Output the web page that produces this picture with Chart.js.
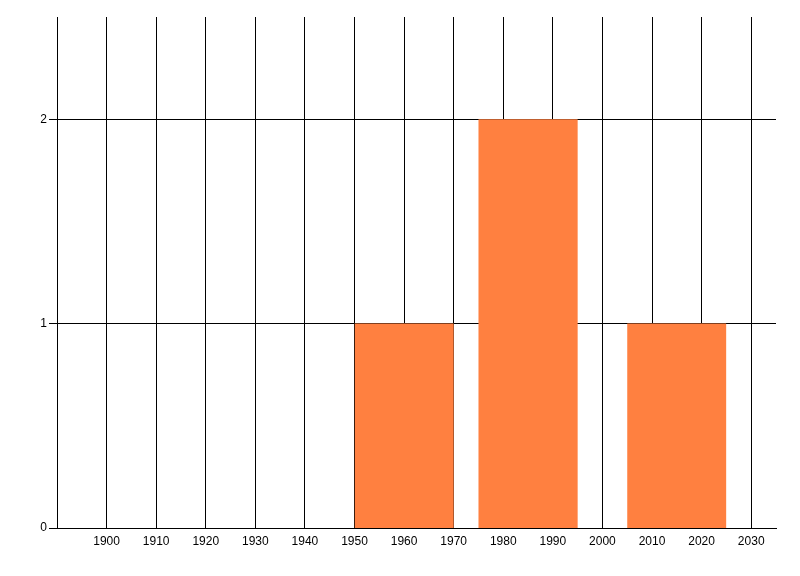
<!DOCTYPE html>
<html>
<head>
<meta charset="utf-8">
<script src="https://cdn.jsdelivr.net/npm/chart.js@4/dist/chart.umd.min.js"></script>
<style>
  html, body { margin: 0; padding: 0; background: #fff; }
  #wrap { width: 800px; height: 576px; }
</style>
</head>
<body>
<div id="wrap"><canvas id="chartHist"></canvas></div>
<script>
// bin edges (years) and counts
let binStarts = [1950, 1975, 2005];
let binEnds = [1970, 1995, 2025];
let binCounts = [1, 2, 1];

// labelled ticks
let xTicks = [1900, 1910, 1920, 1930, 1940, 1950, 1960, 1970, 1980, 1990, 2000, 2010, 2020, 2030];
let yTicks = [0, 1, 2];

let xMin = 1890, xMax = 2035;
let yMin = 0, yMax = 2.5;

// each bin becomes a closed rectangle outline, filled down to 0
let histPoints = [];
binStarts.forEach((start, i) => {
    histPoints.push({ x: start, y: 0 });
    histPoints.push({ x: start, y: binCounts[i] });
    histPoints.push({ x: binEnds[i], y: binCounts[i] });
    histPoints.push({ x: binEnds[i], y: 0 });
});

let tickFont = { family: "'Liberation Sans Narrow', 'Liberation Sans', Arial, sans-serif", size: 12 };

let config_chartHist = {
    type: 'line',
    data: {
        datasets: [{
            data: histPoints,
            backgroundColor: 'rgb(255,128,64)',
            borderWidth: 0,
            borderColor: 'rgba(0,0,0,0)',
            pointRadius: 0,
            fill: 'origin',
            tension: 0
        }]
    },
    options: {
        responsive: false,
        animation: false,
        layout: { padding: { top: 17, right: 24, left: 0, bottom: 0 } },
        plugins: { legend: { display: false }, tooltip: { enabled: false } },
        scales: {
            x: {
                type: 'linear',
                min: xMin,
                max: xMax,
                ticks: { color: '#000', font: tickFont, padding: 6, maxRotation: 0, autoSkip: false,
                         callback: v => String(v) },
                afterBuildTicks: scale => { scale.ticks = xTicks.map(v => ({ value: v })); },
                afterFit: scale => { scale.height = 48; },
                grid: { color: '#000', lineWidth: 1, drawTicks: false },
                border: { color: '#000', width: 1 }
            },
            y: {
                type: 'linear',
                min: yMin,
                max: yMax,
                ticks: { color: '#000', font: tickFont, padding: 2, callback: v => String(v) },
                afterBuildTicks: scale => { scale.ticks = yTicks.map(v => ({ value: v })); },
                afterFit: scale => { scale.width = 57; },
                grid: { color: '#000', lineWidth: 1, drawTicks: true, tickLength: 8 },
                border: { color: '#000', width: 1 }
            }
        }
    }
};

let canvas = document.getElementById('chartHist');
canvas.width = 800;
canvas.height = 576;
let chartHist = new Chart(canvas, config_chartHist);
</script>
</body>
</html>
